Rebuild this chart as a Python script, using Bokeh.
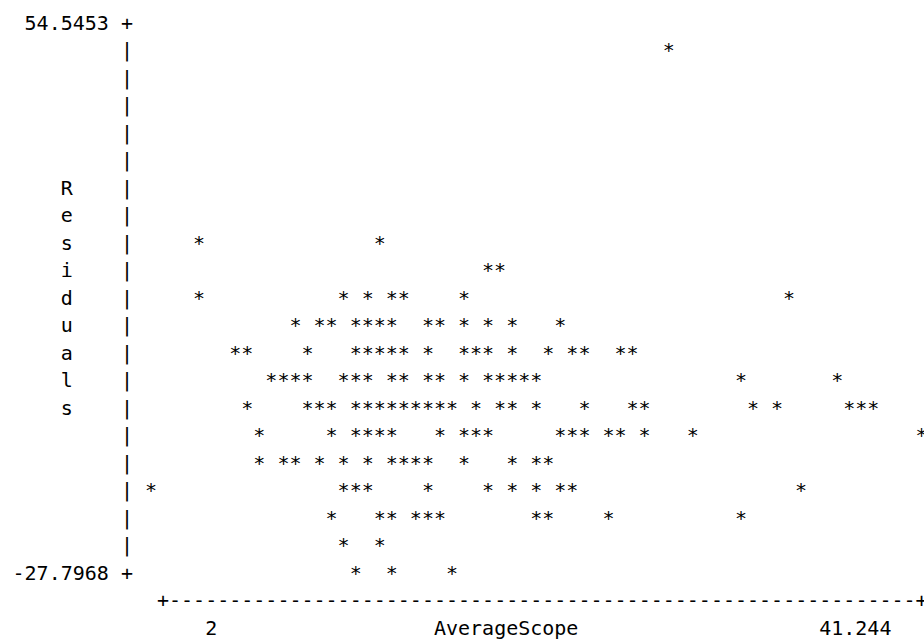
from bokeh.plotting import figure
from bokeh.models import Range1d
from bokeh.core.properties import value
from bokeh.embed import file_html
from bokeh.resources import INLINE

# ---- chart texts ----
y_max_label = "54.5453"
y_min_label = "-27.7968"
y_title = "Residuals"
x_title = "AverageScope"
x_min_label = "2"
x_max_label = "41.244"

# ---- data: character cells holding a '*' ----
# rows counted from the top (row 0 = 54.5453, row 20 = -27.7968),
# columns counted from the '|' axis column (col 0)
point_rows = [1, 8, 9, 10, 11, 12, 13, 14, 15, 16, 17, 18, 19, 20]
point_cols = [
    [45],
    [6, 21],
    [30, 31],
    [6, 18, 20, 22, 23, 28, 55],
    [14, 16, 17, 19, 20, 21, 22, 25, 26, 28, 30, 32, 36],
    [9, 10, 15, 19, 20, 21, 22, 23, 25, 28, 29, 30, 32, 35, 37, 38, 41, 42],
    [12, 13, 14, 15, 18, 19, 20, 22, 23, 25, 26, 28, 30, 31, 32, 33, 34, 51, 59],
    [10, 15, 16, 17, 19, 20, 21, 22, 23, 24, 25, 26, 27, 29, 31, 32, 34, 38, 42, 43,
     52, 54, 60, 61, 62],
    [11, 17, 19, 20, 21, 22, 26, 28, 29, 30, 36, 37, 38, 40, 41, 43, 47, 66],
    [11, 13, 14, 16, 18, 20, 22, 23, 24, 25, 28, 32, 34, 35],
    [2, 18, 19, 20, 25, 30, 32, 34, 36, 37, 56],
    [17, 21, 22, 24, 25, 26, 34, 35, 40, 51],
    [18, 21],
    [19, 22, 27],
]

# grid geometry
n_rows = 21            # rows 0..20 in the plot body
x_axis_first_col = 3
x_axis_last_col = 66
title_col = -5
title_first_row = 6

W, H = 924, 640
CELL_W = 12.04
ROW_H = 27.5
FONT = value("DejaVu Sans Mono")
FS = "20px"

x0 = (0 - 126.4) / CELL_W
y_top = (0 - 22.0) / ROW_H

p = figure(width=W, height=H,
           x_range=Range1d(x0, x0 + W / CELL_W),
           y_range=Range1d(y_top + H / ROW_H, y_top),
           x_axis_type=None, y_axis_type=None,
           output_backend="svg", toolbar_location=None, min_border=0)
p.grid.visible = False
p.outline_line_color = None
p.background_fill_color = "white"
p.border_fill_color = "white"

# stars
sx, sy = [], []
for r, cols in zip(point_rows, point_cols):
    for c in cols:
        sx.append(c)
        sy.append(r)
p.text(x=sx, y=sy, text=["*"] * len(sx), text_font=FONT, text_font_size=FS,
       text_baseline="alphabetic", text_align="center", text_color="black")

# text pieces (left-aligned, start column)
tx, ty, tt = [], [], []

def put(col, row, s):
    tx.append(col - 0.5)
    ty.append(row)
    tt.append(s)

# y axis
put(-8, 0, y_max_label)
put(0, 0, "+")
for r in range(1, n_rows - 1):
    put(0, r, "|")
put(-9, n_rows - 1, y_min_label)
put(0, n_rows - 1, "+")
# vertical title
for k, ch in enumerate(y_title):
    put(title_col, title_first_row + k, ch)
# x axis
put(x_axis_first_col, n_rows, "+" + "-" * (x_axis_last_col - x_axis_first_col - 1) + "+")
put(7, n_rows + 1, x_min_label)
put(26, n_rows + 1, x_title)
put(58, n_rows + 1, x_max_label)

p.text(x=tx, y=ty, text=tt, text_font=FONT, text_font_size=FS,
       text_baseline="alphabetic", text_align="left", text_color="black")

open("out.html", "w").write(file_html(p, INLINE))
